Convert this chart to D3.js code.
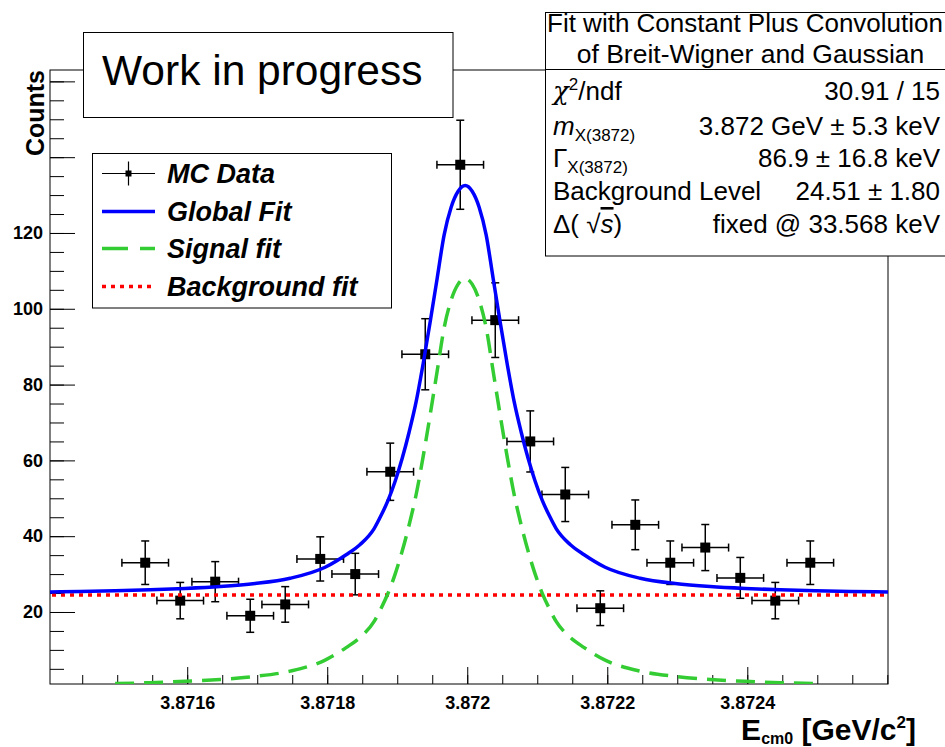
<!DOCTYPE html>
<html>
<head>
<meta charset="utf-8">
<script src="https://cdn.jsdelivr.net/npm/d3@7"></script>
<style>
  body { margin: 0; background: #fff; }
  svg { display: block; font-family: "Liberation Sans", Arial, Helvetica, sans-serif; }
</style>
</head>
<body>
<svg width="945" height="747"></svg>
<script>
// MC data points (bin centres in GeV, counts, poisson errors)
const dataX = [3.87154, 3.87159, 3.87164, 3.87169, 3.87174, 3.87179, 3.87184, 3.87189, 3.87194, 3.87199,
               3.87204, 3.87209, 3.87214, 3.87219, 3.87224, 3.87229, 3.87234, 3.87239, 3.87244, 3.87249];
const counts = [33, 23, 28, 19, 22, 34, 30, 57, 88, 138, 97, 65, 51, 21, 43, 33, 37, 29, 23, 33];
const countErr = [5.74, 4.80, 5.29, 4.36, 4.69, 5.83, 5.48, 7.55, 9.38, 11.75,
                  9.85, 8.06, 7.14, 4.58, 6.56, 5.74, 6.08, 5.39, 4.80, 5.74];
const xErr = 0.0000333;

// signal fit curve
const signalX = [3.871497, 3.871547, 3.871597, 3.871647, 3.871697, 3.871747, 3.871797, 3.871827, 3.871847,
                 3.871867, 3.871877, 3.871887, 3.871897, 3.871907, 3.871917, 3.871927, 3.871937, 3.871947,
                 3.871957, 3.871967, 3.871977, 3.871987, 3.871997, 3.872007, 3.872017, 3.872027, 3.872037,
                 3.872047, 3.872057, 3.872067, 3.872077, 3.872087, 3.872097, 3.872107, 3.872117, 3.872127,
                 3.872147, 3.872167, 3.872197, 3.872247, 3.872297, 3.872347, 3.872397, 3.872447, 3.872497];
const signalY = [1.1, 1.35, 1.7, 2.2, 3.0, 4.4, 7.3, 10.6, 13.3, 17.5, 21.0, 25.0, 30.0, 36.0, 43.0, 51.0,
                 61.0, 72.0, 83.5, 95.0, 102.3, 106.5, 108.0, 106.5, 102.3, 95.0, 83.5, 72.0, 61.0, 51.0,
                 43.0, 36.0, 30.0, 25.0, 21.0, 17.5, 13.3, 10.6, 7.3, 4.4, 3.0, 2.2, 1.7, 1.35, 1.1];

// global fit curve
const globalX = [3.871404, 3.871447].concat(signalX, [3.872547, 3.872601]);
const globalY = [25.3, 25.4, 25.6, 25.85, 26.2, 26.7, 27.5, 28.9, 31.8, 35.1, 37.8, 42.0, 45.5, 49.5, 54.5,
                 60.5, 67.5, 75.5, 85.5, 96.5, 108.0, 119.5, 126.8, 131.0, 132.5, 131.0, 126.8, 119.5,
                 108.0, 96.5, 85.5, 75.5, 67.5, 60.5, 54.5, 49.5, 45.5, 42.0, 37.8, 35.1, 31.8, 28.9,
                 27.5, 26.7, 26.2, 25.85, 25.6, 25.4, 25.3];

const bkgLevel = 24.51;

const xMajorTicks = [3.8716, 3.8718, 3.872, 3.8722, 3.8724];
const yMajorTicks = [20, 40, 60, 80, 100, 120, 140, 160];
const yTickLabels = [20, 40, 60, 80, 100, 120];

const statsTitle = ["Fit with Constant Plus Convolution", "of Breit-Wigner and Gaussian"];
const legendLabels = ["MC Data", "Global Fit", "Signal fit", "Background fit"];

const svg = d3.select("svg");
const pLeft = 50, pRight = 888, pTop = 70, pBottom = 684;

const x = d3.scaleLinear().domain([3.871404, 3.872601]).range([pLeft, pRight]);
const y = d3.scaleLinear().domain([1, 163]).range([pBottom, pTop]);

svg.append("rect").attr("width", 945).attr("height", 747).attr("fill", "#fff");

svg.append("defs").append("clipPath").attr("id", "plot")
  .append("rect").attr("x", pLeft).attr("y", pTop).attr("width", pRight - pLeft).attr("height", pBottom - pTop);

// axes
const xMinor = d3.range(3.87145, 3.87261, 0.00005);
svg.append("g").attr("transform", `translate(0,${pBottom})`)
  .call(d3.axisBottom(x).tickValues(xMinor).tickSize(-9).tickFormat(""))
  .call(g => g.select(".domain").remove());
svg.append("g").attr("transform", `translate(0,${pBottom})`)
  .call(d3.axisBottom(x).tickValues(xMajorTicks).tickSize(-17).tickPadding(12)
    .tickFormat(d => String(+d.toFixed(4))))
  .call(g => g.select(".domain").remove())
  .call(g => g.selectAll("text").attr("font-size", 18).attr("font-weight", "bold")
    .attr("font-family", "Liberation Sans, Arial, sans-serif").attr("fill", "#000"));

const yMinor = d3.range(5, 163, 5);
svg.append("g").attr("transform", `translate(${pLeft},0)`)
  .call(d3.axisLeft(y).tickValues(yMinor).tickSize(-14).tickFormat(""))
  .call(g => g.select(".domain").remove());
svg.append("g").attr("transform", `translate(${pLeft},0)`)
  .call(d3.axisLeft(y).tickValues(yMajorTicks).tickSize(-25).tickPadding(7)
    .tickFormat(d => yTickLabels.includes(d) ? d : ""))
  .call(g => g.select(".domain").remove())
  .call(g => g.selectAll("text").attr("font-size", 18).attr("font-weight", "bold")
    .attr("font-family", "Liberation Sans, Arial, sans-serif").attr("fill", "#000"));

svg.append("rect").attr("x", pLeft).attr("y", pTop)
  .attr("width", pRight - pLeft).attr("height", pBottom - pTop)
  .attr("fill", "none").attr("stroke", "#000").attr("stroke-width", 1);

// axis titles
svg.append("text")
  .attr("transform", `translate(44,${pTop}) rotate(-90)`)
  .attr("text-anchor", "end").attr("font-size", 25).attr("font-weight", "bold")
  .text("Counts");

const xt = svg.append("text").attr("x", 916).attr("y", 740)
  .attr("text-anchor", "end").attr("font-size", 30).attr("font-weight", "bold");
xt.append("tspan").text("E");
xt.append("tspan").attr("font-size", 16).attr("dy", 4).text("cm0");
xt.append("tspan").attr("dy", -4).text(" [GeV/c");
xt.append("tspan").attr("font-size", 17).attr("dy", -12).text("2");
xt.append("tspan").attr("dy", 12).text("]");

// data points
const pts = d3.range(counts.length).map(i => ({ x: dataX[i], y: counts[i], e: countErr[i] }));
const cap = 4;
const gp = svg.append("g").attr("clip-path", "url(#plot)").attr("stroke", "#000").attr("stroke-width", 1.5);
pts.forEach(p => {
  const cx = x(p.x), cy = y(p.y);
  const x0 = x(p.x - xErr), x1 = x(p.x + xErr);
  const y0 = y(p.y - p.e), y1 = y(p.y + p.e);
  gp.append("line").attr("x1", x0).attr("x2", x1).attr("y1", cy).attr("y2", cy);
  gp.append("line").attr("x1", cx).attr("x2", cx).attr("y1", y0).attr("y2", y1);
  gp.append("line").attr("x1", x0).attr("x2", x0).attr("y1", cy - cap).attr("y2", cy + cap);
  gp.append("line").attr("x1", x1).attr("x2", x1).attr("y1", cy - cap).attr("y2", cy + cap);
  gp.append("line").attr("x1", cx - cap).attr("x2", cx + cap).attr("y1", y0).attr("y2", y0);
  gp.append("line").attr("x1", cx - cap).attr("x2", cx + cap).attr("y1", y1).attr("y2", y1);
});
svg.append("g").selectAll("rect").data(pts).join("rect")
  .attr("x", d => x(d.x) - 5).attr("y", d => y(d.y) - 5)
  .attr("width", 10).attr("height", 10).attr("fill", "#000");

// fits
const line = d3.line().x(d => x(d[0])).y(d => y(d[1])).curve(d3.curveMonotoneX);
const fits = svg.append("g").attr("clip-path", "url(#plot)").attr("fill", "none");
fits.append("line")
  .attr("x1", x.range()[0] + 2).attr("x2", x.range()[1] - 2)
  .attr("y1", y(bkgLevel)).attr("y2", y(bkgLevel))
  .attr("stroke", "#ff0000").attr("stroke-width", 3.5).attr("stroke-dasharray", "4,5");
fits.append("path").datum(d3.zip(signalX, signalY)).attr("d", line)
  .attr("stroke", "#33cc33").attr("stroke-width", 3.5).attr("stroke-dasharray", "19,10");
fits.append("path").datum(d3.zip(globalX, globalY)).attr("d", line)
  .attr("stroke", "#0000ff").attr("stroke-width", 3.5);

// Work in progress box
svg.append("rect").attr("x", 83.5).attr("y", 32.5).attr("width", 369.5).attr("height", 85)
  .attr("fill", "#fff").attr("stroke", "#000");
svg.append("text").attr("x", 102).attr("y", 85).attr("font-size", 42.5).text("Work in progress");

// legend
const lg = svg.append("g");
lg.append("rect").attr("x", 92.5).attr("y", 153.5).attr("width", 299).attr("height", 154.5)
  .attr("fill", "#fff").attr("stroke", "#000");
const rowY = [173.5, 211.5, 248.5, 286.5];
const lx0 = 102, lx1 = 155;
lg.append("line").attr("x1", lx0).attr("x2", lx1).attr("y1", rowY[0]).attr("y2", rowY[0])
  .attr("stroke", "#000").attr("stroke-width", 1.2);
lg.append("line").attr("x1", (lx0 + lx1) / 2).attr("x2", (lx0 + lx1) / 2)
  .attr("y1", rowY[0] - 12).attr("y2", rowY[0] + 12).attr("stroke", "#000").attr("stroke-width", 1.2);
lg.append("rect").attr("x", (lx0 + lx1) / 2 - 3).attr("y", rowY[0] - 3)
  .attr("width", 6).attr("height", 6).attr("fill", "#000");
lg.append("line").attr("x1", lx0).attr("x2", lx1).attr("y1", rowY[1]).attr("y2", rowY[1])
  .attr("stroke", "#0000ff").attr("stroke-width", 3.5);
lg.append("line").attr("x1", lx0).attr("x2", lx1).attr("y1", rowY[2]).attr("y2", rowY[2])
  .attr("stroke", "#33cc33").attr("stroke-width", 3.5).attr("stroke-dasharray", "26,12");
lg.append("line").attr("x1", lx0).attr("x2", lx1).attr("y1", rowY[3]).attr("y2", rowY[3])
  .attr("stroke", "#ff0000").attr("stroke-width", 3.5).attr("stroke-dasharray", "4,5");
lg.selectAll("text.lab").data(legendLabels).join("text").attr("class", "lab")
  .attr("x", 167).attr("y", (d, i) => rowY[i]).attr("dy", "0.36em")
  .attr("font-size", 27).attr("font-weight", "bold").attr("font-style", "italic")
  .text(d => d);

// stats box
const st = svg.append("g");
st.append("rect").attr("x", 545.5).attr("y", 12.5).attr("width", 411).attr("height", 243.5)
  .attr("fill", "#fff").attr("stroke", "#000");
st.append("line").attr("x1", 545.5).attr("x2", 956).attr("y1", 69.5).attr("y2", 69.5).attr("stroke", "#000");
st.selectAll("text.title").data(statsTitle).join("text").attr("class", "title")
  .attr("x", (d, i) => [745, 750.5][i]).attr("y", (d, i) => [31.5, 63][i]).attr("text-anchor", "middle")
  .attr("font-size", (d, i) => [26, 26.5][i]).text(d => d);

const rowsY = [100, 135, 167, 200, 233];
const lcol = 553, rcol = 940;
const fs = 26;
function leftText(i) {
  return st.append("text").attr("x", lcol).attr("y", rowsY[i]).attr("font-size", fs);
}
function rightText(i, s) {
  st.append("text").attr("x", rcol).attr("y", rowsY[i]).attr("font-size", fs)
    .attr("text-anchor", "end").text(s);
}
let t = leftText(0);
t.append("tspan").attr("font-family", "DejaVu Serif, serif").attr("font-style", "italic").text("χ");
t.append("tspan").attr("font-size", 17).attr("dy", -10).text("2");
t.append("tspan").attr("dy", 10).text("/ndf");
rightText(0, "30.91 / 15");

t = leftText(1);
t.append("tspan").attr("font-style", "italic").text("m");
t.append("tspan").attr("font-size", 17).attr("dy", 6).text("X(3872)");
rightText(1, "3.872 GeV ± 5.3 keV");

t = leftText(2);
t.append("tspan").text("Γ");
t.append("tspan").attr("font-size", 17).attr("dy", 6).text("X(3872)");
rightText(2, "86.9 ± 16.8  keV");

leftText(3).text("Background Level");
rightText(3, "24.51 ± 1.80");

t = leftText(4);
t.append("tspan").text("Δ( ");
t.append("tspan").text("√");
t.append("tspan").attr("font-style", "italic").attr("text-decoration", "overline").text("s");
t.append("tspan").text(")");
rightText(4, "fixed @ 33.568  keV");
</script>
</body>
</html>
